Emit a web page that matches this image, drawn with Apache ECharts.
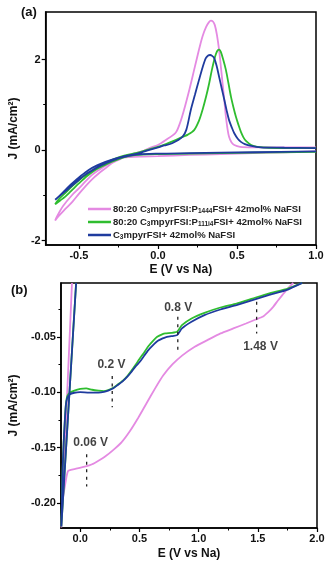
<!DOCTYPE html>
<html>
<head>
<meta charset="utf-8">
<script src="https://cdn.jsdelivr.net/npm/echarts@6/dist/echarts.min.js"></script>
<style>
  html, body { margin: 0; padding: 0; background: #fff; }
  #main { width: 329px; height: 566px; }
</style>
</head>
<body>
<div id="main"></div>
<script>
// 颜色
const PINK = '#e48ae2';
const GREEN = '#2fbd2f';
const BLUE = '#1f3b9e';

// 系列名称（图例）
const seriesNames = ['p1444', 'p111i4', 'c3'];
const legendLabels = [
  '{n|80:20 C}{s|3}{n|mpyrFSI:P}{s|1444}{n|FSI+ 42mol% NaFSI}',
  '{n|80:20 C}{s|3}{n|mpyrFSI:P}{s|111i4}{n|FSI+ 42mol% NaFSI}',
  '{n|C}{s|3}{n|mpyrFSI+ 42mol% NaFSI}'
];

// (a) CV 数据 [E, J]
const cvPink = [
  [1.0,-0.03],[0.8,-0.05],[0.6,-0.07],[0.4,-0.09],[0.2,-0.11],[0.0,-0.135],[-0.1,-0.145],[-0.18,-0.155],
  [-0.214,-0.165],[-0.25,-0.22],[-0.29,-0.29],[-0.33,-0.4],[-0.375,-0.52],[-0.42,-0.66],[-0.46,-0.81],
  [-0.5,-0.97],[-0.54,-1.14],[-0.59,-1.32],[-0.63,-1.47],[-0.65,-1.56],
  [-0.64,-1.48],[-0.6,-1.24],[-0.544,-1.0],[-0.5,-0.85],[-0.46,-0.70],[-0.42,-0.56],[-0.373,-0.44],
  [-0.33,-0.34],[-0.29,-0.26],[-0.24,-0.18],[-0.184,-0.11],[-0.14,-0.07],[-0.1,-0.03],[-0.05,0.05],
  [0.0,0.11],[0.05,0.22],[0.112,0.38],[0.14,0.6],[0.165,0.885],[0.2,1.35],[0.229,1.77],[0.26,2.22],
  [0.282,2.51],[0.305,2.72],[0.322,2.82],[0.335,2.86],[0.348,2.84],[0.36,2.76],[0.373,2.55],[0.387,2.21],
  [0.398,1.85],[0.409,1.47],[0.42,1.1],[0.43,0.74],[0.44,0.47],[0.45,0.29],[0.465,0.17],[0.483,0.11],
  [0.52,0.07],[0.6,0.06],[0.8,0.06],[1.0,0.06]
];
const cvGreen = [
  [1.0,-0.04],[0.6,-0.06],[0.2,-0.08],[0.0,-0.09],[-0.1,-0.1],[-0.18,-0.13],[-0.24,-0.19],[-0.29,-0.26],
  [-0.34,-0.34],[-0.396,-0.44],[-0.45,-0.58],[-0.5,-0.74],[-0.55,-0.91],[-0.586,-1.03],[-0.62,-1.12],[-0.65,-1.2],
  [-0.63,-1.1],[-0.58,-0.93],[-0.53,-0.76],[-0.47,-0.58],[-0.41,-0.44],[-0.35,-0.32],[-0.29,-0.22],
  [-0.23,-0.14],[-0.17,-0.09],[-0.12,-0.05],[-0.06,0.01],[0.0,0.07],[0.05,0.13],[0.1,0.2],[0.155,0.29],
  [0.19,0.34],[0.229,0.44],[0.26,0.65],[0.282,0.885],[0.304,1.17],[0.324,1.47],[0.34,1.75],[0.356,1.99],
  [0.367,2.12],[0.377,2.2],[0.388,2.22],[0.398,2.17],[0.413,2.0],[0.43,1.77],[0.446,1.48],[0.462,1.18],
  [0.478,0.94],[0.493,0.74],[0.51,0.55],[0.525,0.40],[0.541,0.28],[0.557,0.2],[0.59,0.11],[0.63,0.07],
  [0.7,0.05],[1.0,0.04]
];
const cvBlue = [
  [1.0,-0.03],[0.6,-0.05],[0.2,-0.07],[0.0,-0.08],[-0.14,-0.1],[-0.2,-0.14],[-0.247,-0.18],[-0.3,-0.25],
  [-0.353,-0.33],[-0.41,-0.44],[-0.46,-0.55],[-0.51,-0.69],[-0.565,-0.85],[-0.61,-0.98],[-0.65,-1.1],
  [-0.628,-1.03],[-0.585,-0.88],[-0.543,-0.74],[-0.49,-0.58],[-0.438,-0.44],[-0.385,-0.34],[-0.332,-0.26],
  [-0.28,-0.2],[-0.226,-0.15],[-0.17,-0.11],[-0.12,-0.07],[-0.07,-0.015],[-0.015,0.04],[0.04,0.1],
  [0.09,0.15],[0.155,0.29],[0.18,0.45],[0.208,0.885],[0.235,1.23],[0.26,1.55],[0.283,1.83],[0.303,2.03],
  [0.318,2.09],[0.33,2.1],[0.343,2.08],[0.356,2.03],[0.372,1.85],[0.387,1.62],[0.403,1.37],[0.42,1.11],
  [0.435,0.87],[0.45,0.66],[0.467,0.5],[0.483,0.37],[0.505,0.25],[0.525,0.18],[0.55,0.13],[0.59,0.09],
  [0.65,0.06],[0.8,0.05],[1.0,0.04]
];

// (b) LSV 数据 [E, J]
const lsvPink = [
  [1.80,-0.0015],[1.753,-0.0065],[1.71,-0.012],[1.672,-0.017],[1.63,-0.023],[1.59,-0.0275],[1.54,-0.032],
  [1.482,-0.0344],[1.40,-0.038],[1.293,-0.0425],[1.185,-0.047],[1.075,-0.053],[0.967,-0.059],[0.86,-0.067],
  [0.778,-0.075],[0.7,-0.085],[0.63,-0.097],[0.56,-0.11],[0.49,-0.123],[0.42,-0.135],[0.35,-0.145],
  [0.28,-0.152],[0.21,-0.158],[0.15,-0.162],[0.1,-0.165],[0.046,-0.167],
  [-0.035,-0.169],[-0.08,-0.17],[-0.103,-0.171],[-0.116,-0.176],[-0.13,-0.185],[-0.144,-0.194],
  [-0.157,-0.212],[-0.16,-0.222],[-0.07,-0.0015]
];
const lsvGreen = [
  [1.875,-0.0014],[1.753,-0.0065],[1.59,-0.011],[1.455,-0.0155],[1.32,-0.020],[1.184,-0.0236],[1.049,-0.0284],
  [0.94,-0.0335],[0.859,-0.0395],[0.818,-0.0455],[0.77,-0.0465],[0.72,-0.047],[0.696,-0.0476],[0.65,-0.050],
  [0.615,-0.0536],[0.575,-0.0585],[0.534,-0.065],[0.5,-0.070],[0.466,-0.0755],[0.43,-0.081],[0.398,-0.0854],
  [0.36,-0.0895],[0.317,-0.093],[0.28,-0.096],[0.236,-0.098],[0.2,-0.099],[0.154,-0.0986],[0.1,-0.0978],
  [0.05,-0.0965],[0.0,-0.097],[-0.05,-0.0985],[-0.09,-0.1005],[-0.111,-0.104],[-0.122,-0.112],[-0.13,-0.125],
  [-0.14,-0.145],[-0.149,-0.17],[-0.155,-0.2],[-0.16,-0.221],[-0.035,-0.0014]
];
const lsvBlue = [
  [1.875,-0.0014],[1.753,-0.0074],[1.59,-0.0125],[1.455,-0.017],[1.32,-0.0215],[1.184,-0.0254],[1.049,-0.0305],
  [0.94,-0.0365],[0.859,-0.0425],[0.818,-0.0485],[0.77,-0.0495],[0.72,-0.0505],[0.696,-0.0515],[0.65,-0.054],
  [0.615,-0.0575],[0.575,-0.062],[0.534,-0.068],[0.5,-0.073],[0.466,-0.077],[0.43,-0.082],[0.398,-0.086],
  [0.36,-0.09],[0.317,-0.0935],[0.28,-0.0965],[0.236,-0.0986],[0.2,-0.0998],[0.154,-0.1004],[0.073,-0.1004],
  [0.0,-0.100],[-0.05,-0.1005],[-0.09,-0.102],[-0.111,-0.1055],[-0.122,-0.112],[-0.13,-0.125],[-0.14,-0.145],
  [-0.149,-0.17],[-0.155,-0.2],[-0.16,-0.221],[-0.035,-0.0014]
];

// (b) 标注：虚线位置和文字
const markE = [0.27, 0.824, 1.49, 0.054];
const markJTop = [-0.0854, -0.032, -0.0185, -0.156];
const markJBottom = [-0.1135, -0.062, -0.047, -0.185];
const noteText = ['0.2 V', '0.8 V', '1.48 V', '0.06 V'];
const noteE = [0.263, 0.827, 1.523, 0.087];
const noteJ = [-0.0749, -0.0236, -0.059, -0.1453];

// 刻度
const aXLabels = [-0.5, 0, 0.5, 1.0];
const aXMinor = [-0.25, 0.25, 0.75];
const aYLabels = [-2, 0, 2];
const aYMinor = [-1, 1];
const bXLabels = [0, 0.5, 1.0, 1.5, 2.0];
const bXMinor = [0.25, 0.75, 1.25, 1.75];
const bYLabels = [-0.20, -0.15, -0.10, -0.05];
const bYMinor = [-0.175, -0.125, -0.075, -0.025];

const FONT = 'Liberation Sans, Arial, sans-serif';
const labelStyle = { color: '#111', fontWeight: 'bold', fontSize: 11, fontFamily: FONT };
const nameStyle = { color: '#111', fontWeight: 'bold', fontSize: 12, fontFamily: FONT };

function mainAxis(gridIndex, position, min, max, labels, fmt, extra) {
  return Object.assign({
    type: 'value', gridIndex, position, min, max,
    axisLine: { show: true, onZero: false, lineStyle: { color: '#000', width: 1.5 } },
    axisTick: { show: true, customValues: labels, length: 4, lineStyle: { color: '#000', width: 1.2 } },
    axisLabel: Object.assign({ customValues: labels, formatter: fmt, margin: 5 }, labelStyle),
    splitLine: { show: false }
  }, extra);
}
function minorAxis(gridIndex, position, min, max, values) {
  return {
    type: 'value', gridIndex, position, min, max, offset: 0,
    axisLine: { show: false, onZero: false },
    axisTick: { show: true, customValues: values, length: 2.5, lineStyle: { color: '#000', width: 1 } },
    axisLabel: { show: false },
    splitLine: { show: false }
  };
}

const lineSeries = (name, data, color, xi, yi, smooth) => ({
  type: 'line', name, data, xAxisIndex: xi, yAxisIndex: yi,
  showSymbol: false, symbol: 'none', smooth, animation: false,
  lineStyle: { color, width: 1.8 }, itemStyle: { color }
});

const markSeries = markE.map((e, i) => ({
  type: 'line', xAxisIndex: 2, yAxisIndex: 2, symbol: 'none', animation: false, silent: true,
  data: [[e, markJTop[i]], [e, markJBottom[i]]],
  lineStyle: { color: '#222', width: 1.3, type: [3, 4.5] }
}));

const chart = echarts.init(document.getElementById('main'));
chart.setOption({
  backgroundColor: '#fff',
  animation: false,
  title: [
    { text: '(a)', left: 16, top: 1, textStyle: { fontSize: 13, fontWeight: 'bold', fontFamily: FONT, color: '#111' } },
    { text: '(b)', left: 6, top: 279, textStyle: { fontSize: 13, fontWeight: 'bold', fontFamily: FONT, color: '#111' } }
  ],
  legend: {
    data: seriesNames, orient: 'vertical', left: 83, top: 199, itemGap: 2,
    itemWidth: 23, itemHeight: 2.5, icon: 'rect',
    formatter: name => legendLabels[seriesNames.indexOf(name)],
    textStyle: {
      padding: [0, 0, 0, -3],
      rich: {
        n: { fontSize: 9.5, fontWeight: 'bold', fontFamily: FONT, color: '#222', lineHeight: 12 },
        s: { fontSize: 6.5, fontWeight: 'bold', fontFamily: FONT, color: '#222', verticalAlign: 'bottom' }
      }
    }
  },
  grid: [
    { left: 45, right: 13, top: 12, height: 233, show: true, borderColor: '#000', borderWidth: 1.5 },
    { left: 51, right: 12, top: 283, height: 245, show: true, borderColor: '#000', borderWidth: 1.5 }
  ],
  xAxis: [
    mainAxis(0, 'bottom', -0.71, 1.0, aXLabels, v => v.toFixed(1),
      { name: 'E (V vs Na)', nameLocation: 'middle', nameGap: 19, nameTextStyle: nameStyle }),
    minorAxis(0, 'bottom', -0.71, 1.0, aXMinor),
    mainAxis(1, 'bottom', -0.163, 2.0, bXLabels, v => v.toFixed(1),
      { name: 'E (V vs Na)', nameLocation: 'middle', nameGap: 20, nameTextStyle: nameStyle }),
    minorAxis(1, 'bottom', -0.163, 2.0, bXMinor)
  ],
  yAxis: [
    mainAxis(0, 'left', -2.1, 3.05, aYLabels, v => String(v),
      { name: 'J (mA/cm²)', nameLocation: 'middle', nameGap: 21, nameTextStyle: nameStyle }),
    minorAxis(0, 'left', -2.1, 3.05, aYMinor),
    mainAxis(1, 'left', -0.2225, -0.0015, bYLabels, v => v.toFixed(2),
      { name: 'J (mA/cm²)', nameLocation: 'middle', nameGap: 37, nameTextStyle: nameStyle }),
    minorAxis(1, 'left', -0.2225, -0.0015, bYMinor)
  ],
  series: [
    lineSeries(seriesNames[0], cvPink, PINK, 0, 0, 0.3),
    lineSeries(seriesNames[1], cvGreen, GREEN, 0, 0, 0.3),
    lineSeries(seriesNames[2], cvBlue, BLUE, 0, 0, 0.3),
    lineSeries(seriesNames[0], lsvPink, PINK, 2, 2, 0.15),
    lineSeries(seriesNames[1], lsvGreen, GREEN, 2, 2, 0.15),
    lineSeries(seriesNames[2], lsvBlue, BLUE, 2, 2, 0.15),
    ...markSeries,
    {
      type: 'scatter', xAxisIndex: 2, yAxisIndex: 2, symbolSize: 0, silent: true, animation: false,
      data: noteE.map((e, i) => ({ value: [e, noteJ[i]], name: noteText[i] })),
      label: { show: true, position: 'inside', formatter: p => p.name, color: '#111', fontWeight: 'bold', fontSize: 12, fontFamily: FONT }
    }
  ]
});
</script>
</body>
</html>
